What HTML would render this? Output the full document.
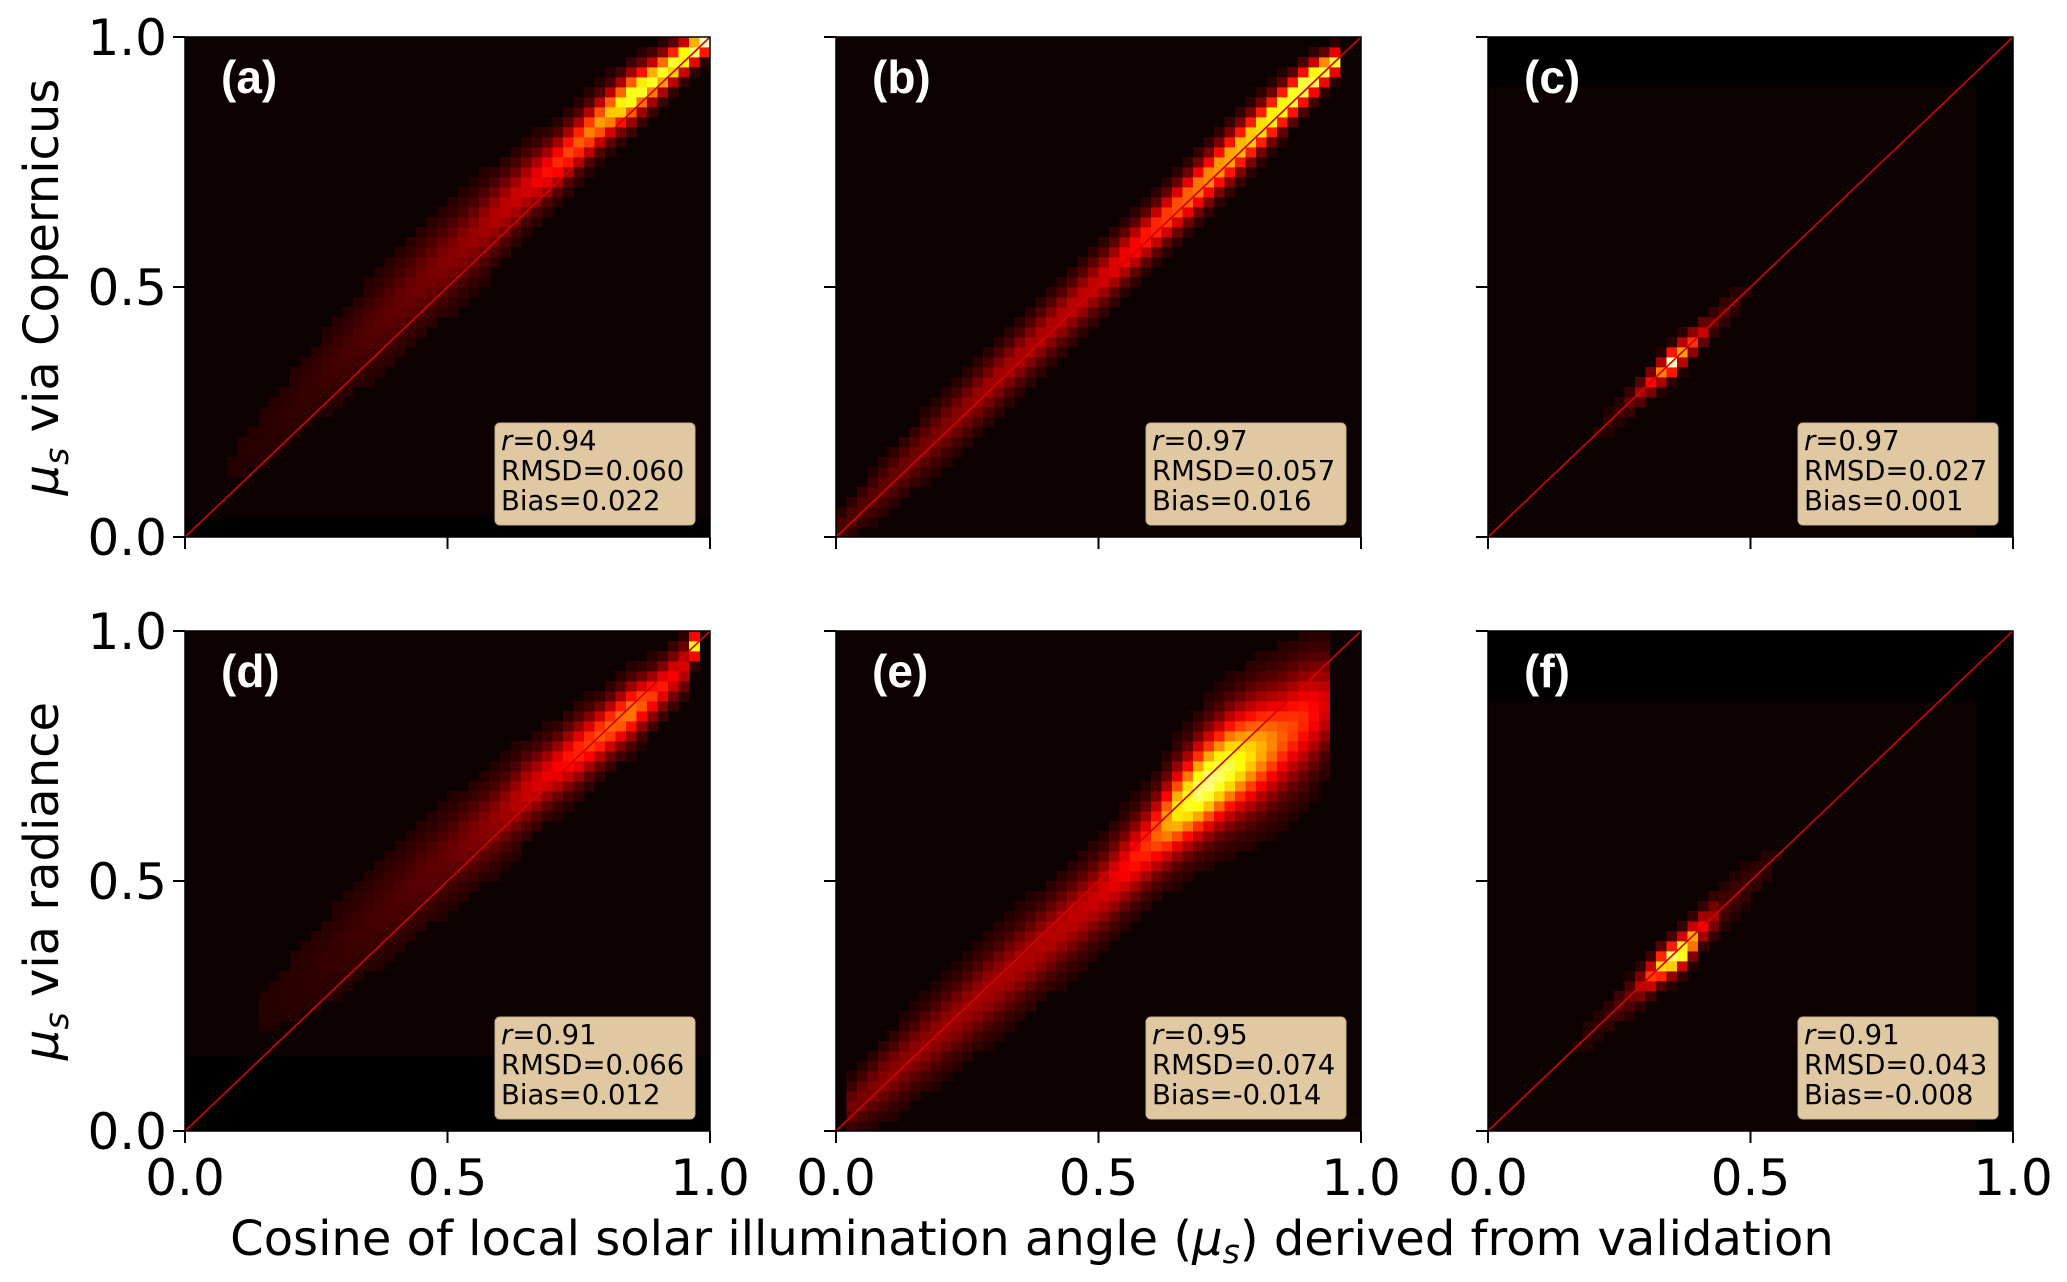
<!DOCTYPE html>
<html><head><meta charset="utf-8">
<style>
html,body{margin:0;padding:0;background:#fff;}
svg{display:block;font-family:"DejaVu Sans","Liberation Sans",sans-serif;}
</style></head>
<body>
<svg id="fig" width="2067" height="1282" viewBox="0 0 2067 1282" xmlns="http://www.w3.org/2000/svg"></svg>
<script>
// ---- chart data ----
const panelLabels = ["(a)","(b)","(c)","(d)","(e)","(f)"];
const statR = ["0.94","0.97","0.97","0.91","0.95","0.91"];
const statRMSD = ["0.060","0.057","0.027","0.066","0.074","0.043"];
const statBias = ["0.022","0.016","0.001","0.012","-0.014","-0.008"];
const tickValues = [0.0, 0.5, 1.0];
const tickLabels = ["0.0","0.5","1.0"];
// data extents per panel [xmin,xmax,ymin,ymax] (outside is empty / black)
const extentA=[0,1,0.04,1], extentB=[0,1,0,1], extentC=[0,0.93,0,0.9];
const extentD=[0,1,0.15,1], extentE=[0,1,0,1], extentF=[0,0.93,0,0.86];
// ridge of density: x, y centre, peak intensity (0..1), spread
const ridgeXA=[0.05,0.15,0.25,0.35,0.45,0.55,0.65,0.70,0.75,0.80,0.85,0.90,0.95,0.99];
const ridgeYA=[0.1,0.20,0.31,0.41,0.51,0.60,0.70,0.74,0.79,0.84,0.88,0.92,0.96,0.99];
const ridgeIA=[0.01,0.025,0.05,0.09,0.14,0.2,0.3,0.4,0.5,0.62,0.82,0.78,0.85,0.95];
const ridgeSA=[0.05,0.05,0.05,0.055,0.055,0.05,0.04,0.035,0.032,0.03,0.03,0.025,0.02,0.015];
const ridgeXB=[0.01,0.1,0.2,0.3,0.4,0.5,0.6,0.65,0.7,0.75,0.8,0.85,0.9,0.95];
const ridgeYB=[0.02,0.11,0.21,0.31,0.41,0.51,0.61,0.66,0.71,0.76,0.81,0.86,0.91,0.95];
const ridgeIB=[0.08,0.12,0.16,0.22,0.24,0.28,0.42,0.5,0.58,0.64,0.72,0.82,0.92,0.8];
const ridgeSB=[0.02,0.03,0.035,0.035,0.035,0.035,0.03,0.03,0.03,0.03,0.028,0.025,0.022,0.015];
const ridgeXC=[0.2,0.26,0.3,0.33,0.35,0.37,0.4,0.43,0.5];
const ridgeYC=[0.2,0.26,0.3,0.33,0.35,0.37,0.4,0.43,0.5];
const ridgeIC=[0.02,0.06,0.28,0.55,0.95,0.6,0.35,0.12,0.02];
const ridgeSC=[0.015,0.015,0.015,0.015,0.015,0.015,0.015,0.015,0.015];
const ridgeXD=[0.1,0.2,0.3,0.4,0.5,0.6,0.65,0.7,0.75,0.8,0.85,0.9,0.95,0.98];
const ridgeYD=[0.2,0.28,0.37,0.46,0.55,0.63,0.68,0.72,0.76,0.8,0.84,0.88,0.93,0.99];
const ridgeID=[0.01,0.025,0.05,0.08,0.12,0.2,0.28,0.34,0.42,0.5,0.55,0.42,0.3,0.95];
const ridgeSD=[0.06,0.06,0.06,0.06,0.055,0.05,0.045,0.04,0.04,0.035,0.035,0.03,0.03,0.01];
const ridgeXE=[0.03,0.1,0.2,0.3,0.4,0.5,0.6,0.65,0.7,0.75,0.8,0.85,0.9,0.94];
const ridgeYE=[0.05,0.11,0.2,0.29,0.38,0.47,0.58,0.64,0.69,0.73,0.76,0.79,0.83,0.86];
const ridgeIE=[0.14,0.18,0.2,0.22,0.24,0.28,0.45,0.72,0.9,0.82,0.66,0.5,0.4,0.28];
const ridgeSE=[0.03,0.04,0.045,0.05,0.05,0.05,0.05,0.055,0.06,0.065,0.07,0.07,0.07,0.06];
const ridgeXF=[0.15,0.22,0.28,0.31,0.34,0.36,0.38,0.41,0.45,0.55];
const ridgeYF=[0.15,0.22,0.28,0.31,0.34,0.35,0.37,0.41,0.45,0.55];
const ridgeIF=[0.01,0.04,0.15,0.45,0.8,0.95,0.8,0.35,0.08,0.02];
const ridgeSF=[0.02,0.02,0.02,0.02,0.02,0.02,0.02,0.02,0.025,0.025];

const NS="http://www.w3.org/2000/svg";
const svg=document.getElementById('fig');
const panelLeft=[185,836,1488], panelTop=[37,631], PW=525, PH=500;
const NB=50;
const extents=[extentA,extentB,extentC,extentD,extentE,extentF];
const ridges=[[ridgeXA,ridgeYA,ridgeIA,ridgeSA],[ridgeXB,ridgeYB,ridgeIB,ridgeSB],[ridgeXC,ridgeYC,ridgeIC,ridgeSC],
 [ridgeXD,ridgeYD,ridgeID,ridgeSD],[ridgeXE,ridgeYE,ridgeIE,ridgeSE],[ridgeXF,ridgeYF,ridgeIF,ridgeSF]];

function mk(tag,attrs,parent){const e=document.createElementNS(NS,tag);for(const k in attrs)e.setAttribute(k,attrs[k]);(parent||svg).appendChild(e);return e;}
function hot(t){t=Math.max(0,Math.min(1,t));
 const r=Math.min(1,(t+0.04)/0.4),g=Math.max(0,Math.min(1,(t-0.36)/0.38)),b=Math.max(0,Math.min(1,(t-0.75)/0.25));
 return `rgb(${Math.round(r*255)},${Math.round(g*255)},${Math.round(b*255)})`;}
function interp(xs,vs,x){if(x<xs[0]||x>xs[xs.length-1])return null;
 for(let i=0;i<xs.length-1;i++){if(x>=xs[i]&&x<=xs[i+1]){const f=(x-xs[i])/(xs[i+1]-xs[i]||1);return vs[i]+f*(vs[i+1]-vs[i]);}}return vs[vs.length-1];}

for(let p=0;p<6;p++){
 const col=p%3,row=Math.floor(p/3);
 const X0=panelLeft[col],Y0=panelTop[row];
 const xs=v=>X0+v*PW, ys=v=>Y0+PH-v*PH;
 const g=mk('g',{});
 
 
 const bg=mk('rect',{x:X0,y:Y0,width:PW,height:PH,fill:'#000'},g);
 
 
 const ex=extents[p];
 const dr=mk('rect',{x:xs(ex[0]),y:ys(ex[3]),width:xs(ex[1])-xs(ex[0]),height:ys(ex[2])-ys(ex[3]),fill:'#0d0000'},g);
 
 
 const [rx,ry,ri,rs]=ridges[p];
 const cw=PW/NB,ch=PH/NB;
 for(let i=0;i<NB;i++){
  const xc=(i+0.5)/NB;
  const yc=interp(rx,ry,xc); if(yc===null)continue;
  const amp=interp(rx,ri,xc), sp=interp(rx,rs,xc);
  for(let j=0;j<NB;j++){
   const yv=(j+0.5)/NB;
   const d=(yv-yc)/sp;
   const t=amp*Math.exp(-0.5*d*d);
   if(t<0.015)continue;
   const c=mk('rect',{x:(xs(i/NB)).toFixed(2),y:(ys((j+1)/NB)).toFixed(2),width:(cw+0.4).toFixed(2),height:(ch+0.4).toFixed(2),fill:hot(t)},g);
   
   
  }
 }
 const ln=mk('line',{x1:xs(0),y1:ys(0),x2:xs(1),y2:ys(1),stroke:'#d40000','stroke-width':1.6},g);
 
 
 const fr=mk('rect',{x:X0,y:Y0,width:PW,height:PH,fill:'none',stroke:'#000','stroke-width':1.5},g);
 
 
 for(let k=0;k<tickValues.length;k++){
  const tv=tickValues[k];
  const tx=mk('line',{x1:xs(tv),y1:Y0+PH,x2:xs(tv),y2:Y0+PH+12,stroke:'#000','stroke-width':2},g);
  
  
  const ty=mk('line',{x1:X0-12,y1:ys(tv),x2:X0,y2:ys(tv),stroke:'#000','stroke-width':2},g);
  
  
  if(row===1){
   const tl=mk('text',{x:xs(tv),y:Y0+PH+64,'font-size':50,'text-anchor':'middle',fill:'#000'},g);
   tl.textContent=tickLabels[k];
   
   
  }
  if(col===0){
   const tl=mk('text',{x:X0-18,y:ys(tv)+18,'font-size':50,'text-anchor':'end',fill:'#000'},g);
   tl.textContent=tickLabels[k];
   
   
  }
 }
 const pl=mk('text',{x:X0+36,y:Y0+56,'font-size':46,'font-weight':'bold',fill:'#fff','font-family':'"Liberation Sans",sans-serif'},g);
 pl.textContent=panelLabels[p];
 
 
 const bx=mk('rect',{x:X0+310,y:Y0+386,width:200,height:102,rx:5,fill:'#e0c9a2',stroke:'#c9b088','stroke-width':1},g);
 
 
 const st=mk('text',{x:X0+316,y:Y0+413,'font-size':27.5,fill:'#000'},g);
 
 
 const lines=[['r','='+statR[p]],['','RMSD='+statRMSD[p]],['','Bias='+statBias[p]]];
 lines.forEach((l,li)=>{
  const ts=mk('tspan',{x:X0+316,dy:li?30:0},st);
  if(l[0]){const it=mk('tspan',{'font-style':'italic'},ts);it.textContent=l[0];const rest=mk('tspan',{},ts);rest.textContent=l[1];}
  else ts.textContent=l[1];
 });
}
// axis titles
function ylab(txt,cy,name){
 const t=mk('text',{transform:`translate(58,${cy}) rotate(-90)`,'font-size':48,'text-anchor':'middle',fill:'#000'});
 
 
 const m=mk('tspan',{'font-style':'italic'},t);m.textContent='μ';
 const s=mk('tspan',{'font-style':'italic','font-size':33,dy:10},t);s.textContent='s';
 const r=mk('tspan',{dy:-10},t);r.textContent=txt;
}
ylab(' via Copernicus',287,'y-axis-title-top');
ylab(' via radiance',881,'y-axis-title-bottom');
const xl=mk('text',{x:1032,y:1255,'font-size':48,'text-anchor':'middle',fill:'#000'});


const a1=mk('tspan',{},xl);a1.textContent='Cosine of local solar illumination angle (';
const a2=mk('tspan',{'font-style':'italic'},xl);a2.textContent='μ';
const a3=mk('tspan',{'font-style':'italic','font-size':33,dy:8},xl);a3.textContent='s';
const a4=mk('tspan',{dy:-8},xl);a4.textContent=') derived from validation';
</script>
</body></html>
